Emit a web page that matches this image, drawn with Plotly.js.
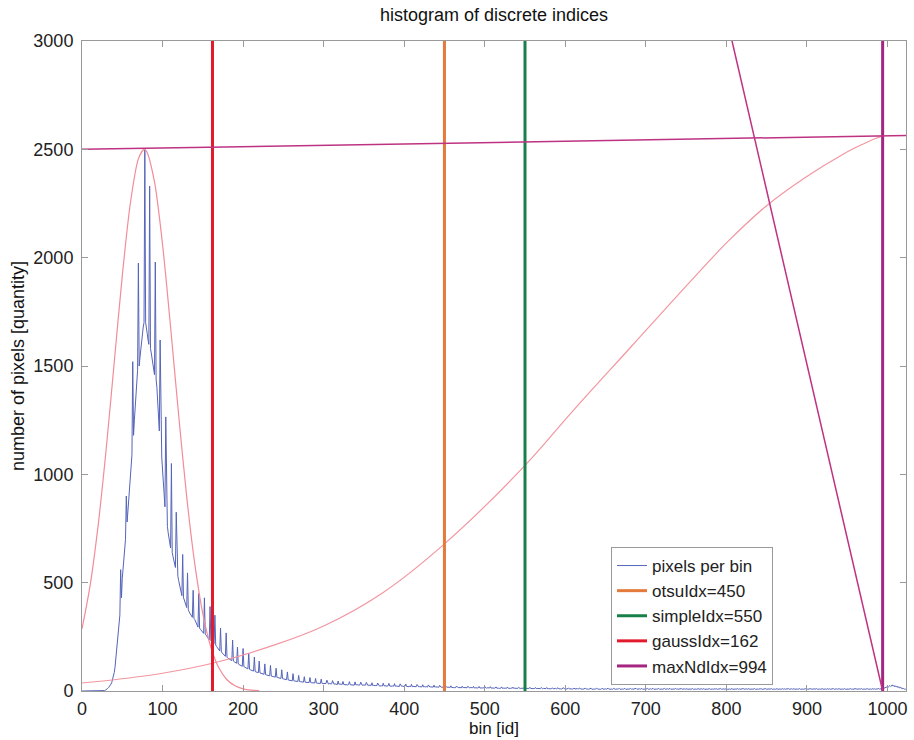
<!DOCTYPE html>
<html>
<head>
<meta charset="utf-8">
<script src="https://cdn.plot.ly/plotly-3.0.1.min.js"></script>
<style>html,body{margin:0;padding:0;background:#fff;}</style>
</head>
<body>
<div id="chart" style="width:914px;height:740px;"></div>
<script>
// ---- data ----
const xTickVals = [0,100,200,300,400,500,600,700,800,900,1000];
const yTickVals = [0,500,1000,1500,2000,2500,3000];

// histogram: pixels per bin, bins 0..1023 (index = bin id)
const pixelsPerBin = [
0,0,0,0,0,0,0,0,0,0,
0,0,0,0,0,0,0,0,0,0,
0,0,0,0,0,0,0,0,2,4,
6,8,12,16,20,26,32,40,52,66,
85,110,150,180,215,260,300,350,560,430,
520,560,600,650,700,900,780,830,880,960,
1010,1050,1090,1520,1180,1250,1300,1350,1420,1480,
1975,1500,1540,1580,1620,1650,1680,1700,2500,1700,
1680,1650,1620,1600,2330,1580,1560,1530,1500,1480,
1460,1980,1440,1400,1330,1260,1200,1620,1150,1080,
1020,960,900,850,1265,800,760,730,700,680,
660,1050,640,620,605,590,570,825,550,530,
510,490,470,450,440,630,430,420,405,395,
385,545,375,365,360,352,345,340,465,335,
330,320,310,300,295,450,290,285,280,275,
270,266,430,262,258,252,248,242,236,390,
232,228,225,222,218,350,212,206,200,195,
190,185,290,180,176,172,168,164,160,268,
156,152,150,147,145,143,140,235,138,135,
132,130,128,203,125,122,120,118,116,114,
196,112,110,108,106,104,102,175,100,98,
96,94,93,92,157,90,88,87,86,85,
138,83,82,80,79,78,77,125,75,74,
73,72,71,70,118,69,68,67,66,65,
64,105,63,62,61,60,59,58,98,57,
56,55,54,53,52,88,51,50,50,49,
48,47,80,47,46,46,45,45,44,72,
44,43,43,42,42,41,66,41,40,40,
40,39,39,62,39,38,38,38,37,37,
58,37,36,36,36,35,35,55,35,34,
34,34,33,35,50,33,32,34,33,32,
33,48,32,31,33,32,31,30,46,31,
32,30,31,30,44,30,29,31,30,29,
28,30,43,29,28,30,29,28,27,42,
28,29,27,28,27,28,41,27,26,28,
27,26,27,40,26,25,27,26,25,26,
38,25,26,24,25,26,24,37,25,24,
23,25,24,23,36,24,23,24,22,23,
24,35,23,22,23,22,24,22,34,22,
23,22,21,22,21,33,22,21,22,20,
21,22,32,21,20,21,20,22,20,31,
20,21,20,19,21,20,30,20,19,20,
19,20,19,29,19,20,18,19,20,18,
28,19,18,19,18,20,18,27,18,19,
17,18,19,17,26,18,17,18,17,19,
17,25,17,16,18,16,17,16,24,16,
17,16,15,17,16,23,16,15,16,15,
17,15,22,15,16,15,14,16,15,22,
15,14,16,15,14,15,21,14,15,14,
16,14,15,21,14,13,15,14,15,14,
20,14,13,15,14,13,14,20,13,14,
13,15,13,14,19,13,14,13,12,14,
13,19,12,13,14,12,13,12,18,13,
12,13,12,14,12,18,12,13,12,11,
13,12,17,12,11,13,12,11,12,17,
11,12,13,11,12,11,17,12,11,12,
11,12,11,16,11,12,11,10,12,11,
16,11,10,12,11,10,11,16,10,11,
10,12,10,11,15,10,11,10,12,10,
11,15,10,11,10,9,11,10,15,10,
11,10,9,10,14,10,9,11,10,9,
10,14,9,10,9,11,9,10,14,9,
10,9,8,10,9,13,9,10,9,8,
10,9,13,8,9,10,9,8,9,13,
9,8,10,9,8,9,13,8,9,8,
10,8,9,13,9,8,9,8,10,8,
12,9,8,9,8,9,10,12,8,9,
8,9,8,10,12,8,9,8,9,8,
9,12,8,10,8,9,8,9,12,8,
9,8,10,8,9,12,8,9,8,9,
8,9,12,8,9,8,10,8,9,12,
8,9,8,9,8,10,12,8,9,8,
9,8,9,12,8,9,8,10,8,9,
12,8,9,8,9,8,9,12,8,10,
8,9,8,9,11,8,9,8,10,8,
9,11,8,9,8,9,8,10,11,8,
9,8,9,8,9,11,8,9,8,10,
8,9,11,8,9,8,9,8,10,11,
8,9,8,9,8,9,11,8,10,8,
9,8,9,11,8,9,8,10,8,9,
11,8,9,8,9,8,10,11,8,9,
8,9,8,9,11,8,10,8,9,8,
9,11,8,9,8,10,8,9,11,8,
9,8,9,8,10,11,8,9,8,9,
8,9,11,8,10,8,9,8,9,11,
8,9,8,10,8,9,11,8,9,8,
9,8,10,11,8,9,8,9,8,9,
11,8,10,8,9,8,9,11,8,9,
8,10,8,9,11,8,9,8,9,8,
10,11,8,9,8,9,8,9,11,8,
10,8,9,8,9,11,8,9,8,10,
8,9,11,8,9,8,9,8,10,11,
8,9,8,9,8,9,11,8,10,8,
9,8,9,11,8,9,8,10,8,9,
11,8,9,8,9,8,10,11,8,9,
8,9,8,9,11,8,10,8,9,8,
9,11,8,9,8,10,8,9,11,8,
9,8,9,8,10,11,8,9,8,9,
8,9,11,8,10,8,9,8,9,11,
9,10,12,11,10,12,14,13,15,17,
20,18,22,25,21,24,28,22,26,20,
24,18,22,16,20,14,17,12,15,10,
12,8,10,6
];

// thresholds
const otsuIdx = 450;
const simpleIdx = 550;
const gaussIdx = 162;
const maxNdIdx = 994;

// gaussian fit curve (light red)
const gaussFitX = [0,10,20,30,40,50,60,70,77,80,90,100,110,120,130,140,150,160,170,180,190,200,210,220];
const gaussFitY = [287,485,763,1116,1516,1916,2250,2456,2500,2492,2350,2061,1679,1273,896,587,357,202,106,52,24,10,4,2];

// rising curve (light red)
const riseX = [0,40,100,162,241,300,374,450,550,610,682,754,802,850,898,946,970,985,994];
const riseY = [37,52,82,128,215,300,455,679,1041,1295,1590,1885,2075,2240,2370,2480,2525,2550,2562];

// maxNd construction lines (magenta)
const baseLineX = [0,1023];
const baseLineY = [2500,2564];
const perpLineX = [994,807];
const perpLineY = [0,3000];

const yFull = [0,3000];

// ---- build traces ----
const bins = pixelsPerBin.map((_, i) => i);
const traces = [
  {x: bins, y: pixelsPerBin, type:'scatter', mode:'lines', name:'pixels per bin',
   line:{color:'rgb(85,100,185)', width:1}},
  {x: gaussFitX, y: gaussFitY, type:'scatter', mode:'lines', showlegend:false,
   line:{color:'rgb(242,140,152)', width:1.2, shape:'spline', smoothing:0.8}},
  {x: riseX, y: riseY, type:'scatter', mode:'lines', showlegend:false,
   line:{color:'rgb(242,150,160)', width:1.2, shape:'spline', smoothing:1}},
  {x: [otsuIdx, otsuIdx], y: yFull, type:'scatter', mode:'lines', name:'otsuIdx=' + otsuIdx,
   line:{color:'rgb(228,122,60)', width:3}},
  {x: [simpleIdx, simpleIdx], y: yFull, type:'scatter', mode:'lines', name:'simpleIdx=' + simpleIdx,
   line:{color:'rgb(22,128,72)', width:3}},
  {x: [gaussIdx, gaussIdx], y: yFull, type:'scatter', mode:'lines', name:'gaussIdx=' + gaussIdx,
   line:{color:'rgb(226,26,44)', width:3}},
  {x: [maxNdIdx, maxNdIdx], y: yFull, type:'scatter', mode:'lines', name:'maxNdIdx=' + maxNdIdx,
   line:{color:'rgb(165,38,128)', width:3}},
  {x: baseLineX, y: baseLineY, type:'scatter', mode:'lines', showlegend:false,
   line:{color:'rgb(190,50,130)', width:1.5}},
  {x: perpLineX, y: perpLineY, type:'scatter', mode:'lines', showlegend:false,
   line:{color:'rgb(190,50,130)', width:1.5}}
];

const axisCommon = {
  showgrid:false, zeroline:false, showline:true, linecolor:'#999', linewidth:1,
  mirror:'ticks', ticks:'inside', ticklen:6, tickcolor:'#999', tickwidth:1,
  tickfont:{size:18, color:'#222'}
};

const layout = {
  width:914, height:740,
  margin:{l:82, r:8, t:41, b:49},
  paper_bgcolor:'#fff', plot_bgcolor:'#fff',
  font:{family:'"Liberation Sans", Arial, Helvetica, sans-serif', size:18, color:'#222'},
  title:{text:'histogram of discrete indices', x:0.5, xref:'paper', xanchor:'center',
         y:1 - 15/740, yref:'container', yanchor:'middle', font:{size:18, color:'#111'}},
  xaxis: Object.assign({}, axisCommon, {range:[0,1023], tickvals:xTickVals, ticklabelstandoff:1,
         title:{text:'bin [id]', standoff:0, font:{size:17, color:'#111'}}}),
  yaxis: Object.assign({}, axisCommon, {range:[0,3000], tickvals:yTickVals, ticklabelstandoff:4,
         title:{text:'number of pixels [quantity]', standoff:4, font:{size:18, color:'#111'}}}),
  showlegend:true,
  legend:{x:(611-82)/824, y:(691-547)/650, xanchor:'left', yanchor:'top',
          bgcolor:'#fff', bordercolor:'#999', borderwidth:1,
          font:{size:17, color:'#222'}, tracegroupgap:0, itemwidth:30}
};

Plotly.newPlot('chart', traces, layout, {staticPlot:true, displayModeBar:false});
</script>
</body>
</html>
